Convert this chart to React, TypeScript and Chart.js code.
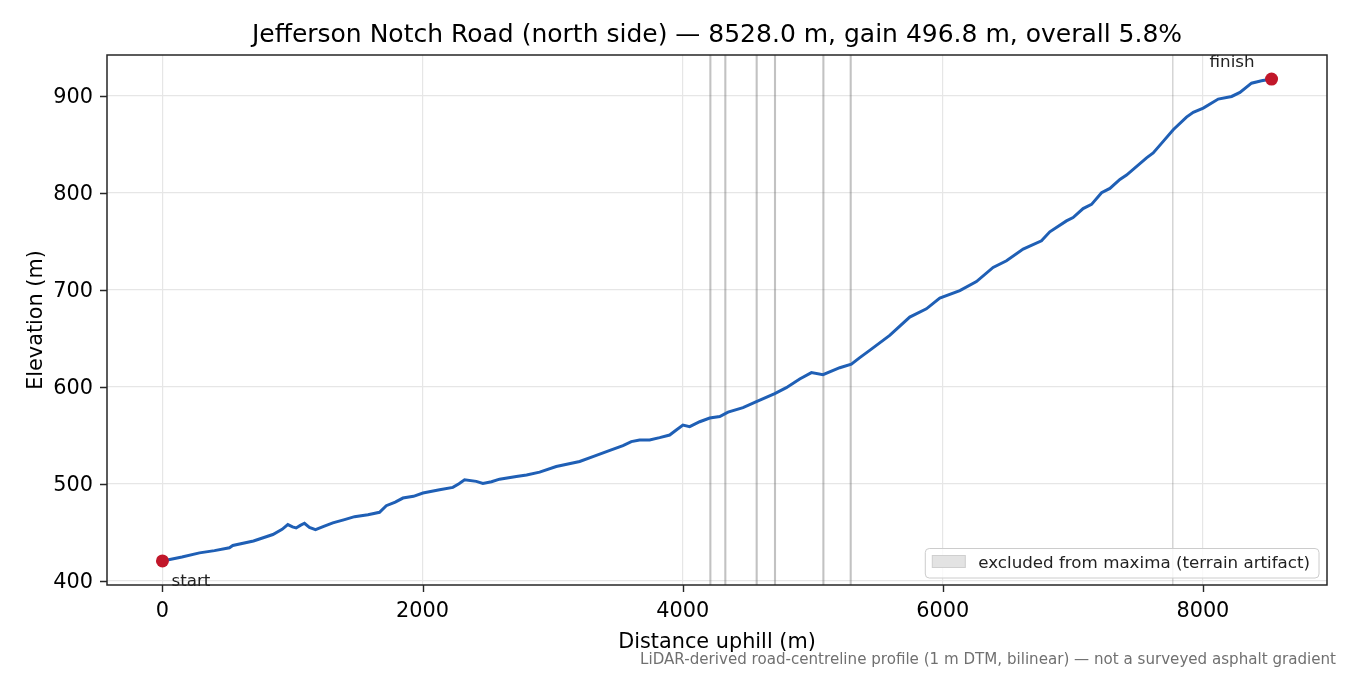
import { useEffect, useRef } from "react";
import { Chart, registerables } from "chart.js";

Chart.register(...registerables);

// distance along the road (m) and elevation (m)
const distance = [
    0, 150, 285, 400, 515, 541, 700, 849, 920, 964, 1000, 1028, 1060, 1092, 1130, 1177,
    1240, 1310, 1400, 1477, 1580, 1669, 1721, 1790, 1849, 1930, 2003, 2131, 2233, 2280,
    2323, 2413, 2464, 2530, 2592, 2721, 2800, 2900, 3028, 3208, 3310, 3451, 3541, 3605,
    3669, 3746, 3823, 3900, 3951, 4002, 4054, 4131, 4208, 4285, 4349, 4464, 4567, 4708,
    4797, 4900, 4990, 5079, 5208, 5297, 5362, 5438, 5592, 5746, 5874, 5977, 6131, 6259,
    6387, 6490, 6618, 6759, 6823, 6951, 7002, 7079, 7144, 7221, 7285, 7362, 7413, 7567,
    7618, 7695, 7772, 7874, 7926, 8003, 8118, 8221, 8285, 8374, 8451, 8528,
];
const elevation = [
    420.4, 424.5, 428.7, 431, 434, 436.3, 441, 447.6, 453, 457.9, 455.5, 454.4, 457, 459.2, 455, 452.7,
    456, 459.6, 463, 466, 468, 470.5, 477.3, 481, 485.2, 487, 490.4, 493.7, 496.2, 500,
    504, 502.4, 500.3, 502, 504.7, 507.5, 509, 511.9, 517.7, 522.9, 528, 534.8, 539.3, 543.4,
    545.1, 545.1, 547.5, 550.2, 555.3, 560.5, 558.8, 563.9, 567.7, 569.2, 573.8, 578.5, 584.6, 592.9,
    599, 608, 614.6, 612.4, 619.6, 623.2, 630, 637.5, 652.9, 671.8, 680.3, 691.3, 699.1, 708.4,
    723, 729.9, 741.9, 750.4, 759.7, 771, 774.4, 783.7, 788, 800, 804.5, 813.8, 818.2, 836,
    841, 853, 865, 878, 883, 887.3, 896.6, 899.3, 903.4, 913, 915.4, 917.2,
];

// stretches excluded from maxima (terrain artifact), in metres
const excludedStart = [4205, 4320, 4561, 4702, 5074, 5284, 7765];
const excludedEnd = [4221, 4336, 4577, 4718, 5090, 5300, 7773];

const xTicks = [0, 2000, 4000, 6000, 8000];
const yTicks = [400, 500, 600, 700, 800, 900];

const titleText = "Jefferson Notch Road (north side) — 8528.0 m, gain 496.8 m, overall 5.8%";
const footerText = "LiDAR-derived road-centreline profile (1 m DTM, bilinear) — not a surveyed asphalt gradient";
const legendText = "excluded from maxima (terrain artifact)";

const FONT = "'DejaVu Sans', sans-serif";

const decorPlugin = {
    id: "decor",
    beforeDatasetsDraw(chart: any) {
        const { ctx, chartArea, scales } = chart;
        ctx.save();
        ctx.fillStyle = "rgba(110, 110, 110, 0.42)";
        excludedStart.forEach((s, i) => {
            const x0 = scales.x.getPixelForValue(s);
            const x1 = scales.x.getPixelForValue(excludedEnd[i]);
            ctx.fillRect(x0, chartArea.top, x1 - x0, chartArea.bottom - chartArea.top);
        });
        ctx.restore();
    },
    afterDraw(chart: any) {
        const { ctx, chartArea, scales } = chart;
        ctx.save();
        // frame
        ctx.strokeStyle = "#262626";
        ctx.lineWidth = 1.5;
        ctx.strokeRect(chartArea.left, chartArea.top, chartArea.right - chartArea.left, chartArea.bottom - chartArea.top);

        // tick marks
        ctx.lineWidth = 1.4;
        ctx.beginPath();
        xTicks.forEach((v) => {
            const x = Math.round(scales.x.getPixelForValue(v)) + 0.5;
            ctx.moveTo(x, chartArea.bottom);
            ctx.lineTo(x, chartArea.bottom + 7);
        });
        yTicks.forEach((v) => {
            const y = Math.round(scales.y.getPixelForValue(v)) + 0.5;
            ctx.moveTo(chartArea.left, y);
            ctx.lineTo(chartArea.left - 7, y);
        });
        ctx.stroke();

        // title
        ctx.fillStyle = "#000";
        ctx.font = `25px ${FONT}`;
        ctx.textAlign = "center";
        ctx.textBaseline = "alphabetic";
        ctx.fillText(titleText, (chartArea.left + chartArea.right) / 2, 42);

        // start / finish labels
        const n = distance.length - 1;
        ctx.font = `16.7px ${FONT}`;
        ctx.fillStyle = "#222";
        ctx.textAlign = "left";
        const sx = scales.x.getPixelForValue(distance[0]);
        const sy = scales.y.getPixelForValue(elevation[0]);
        ctx.fillText("start", sx + 9, sy + 25);
        const fx = scales.x.getPixelForValue(distance[n]);
        const fy = scales.y.getPixelForValue(elevation[n]);
        ctx.fillText("finish", fx - 62, fy - 12.5);

        // legend
        const tw = ctx.measureText(legendText).width;
        const w = 7 + 33 + 13 + tw + 9;
        const h = 29.5;
        const lx = chartArea.right - 8 - w;
        const ly = chartArea.bottom - 7 - h;
        ctx.beginPath();
        ctx.roundRect(lx, ly, w, h, 4);
        ctx.fillStyle = "rgba(255,255,255,0.8)";
        ctx.fill();
        ctx.strokeStyle = "#cccccc";
        ctx.lineWidth = 1;
        ctx.stroke();
        ctx.fillStyle = "#e3e3e3";
        ctx.fillRect(lx + 7, ly + 7, 33, 12);
        ctx.strokeStyle = "#cfcfcf";
        ctx.strokeRect(lx + 7, ly + 7, 33, 12);
        ctx.fillStyle = "#222";
        ctx.fillText(legendText, lx + 7 + 33 + 13, ly + 19.5);

        // footer note
        ctx.font = `15.1px ${FONT}`;
        ctx.fillStyle = "#707070";
        ctx.textAlign = "right";
        ctx.fillText(footerText, 1336, 664);
        ctx.restore();
    },
};

export default function App() {
    const canvasRef = useRef<HTMLCanvasElement>(null);

    useEffect(() => {
        document.body.style.margin = "0";
        if (!canvasRef.current) return;
        const ctx = canvasRef.current.getContext("2d");
        if (!ctx) return;

        const n = distance.length - 1;
        const xSpan = distance[n] - distance[0];
        const yLo = Math.min(...elevation);
        const yHi = Math.max(...elevation);
        const ySpan = yHi - yLo;

        const chart = new Chart(ctx, {
            type: "line",
            data: {
                datasets: [
                    {
                        type: "scatter" as const,
                        label: "ends",
                        data: [
                            { x: distance[0], y: elevation[0] },
                            { x: distance[n], y: elevation[n] },
                        ],
                        pointRadius: 6.5,
                        pointBackgroundColor: "#c1172a",
                        pointBorderWidth: 0,
                        order: 0,
                    },
                    {
                        label: "profile",
                        data: distance.map((d, i) => ({ x: d, y: elevation[i] })),
                        borderColor: "#1f5fb5",
                        borderWidth: 3,
                        pointRadius: 0,
                        tension: 0,
                        fill: false,
                        order: 1,
                    },
                ],
            },
            plugins: [decorPlugin],
            options: {
                animation: false,
                responsive: false,
                devicePixelRatio: 1,
                layout: { padding: { top: 55, right: 23, left: 0, bottom: 0 } },
                plugins: {
                    legend: { display: false },
                    tooltip: { enabled: false },
                    title: { display: false },
                },
                scales: {
                    x: {
                        type: "linear",
                        min: distance[0] - 0.05 * xSpan,
                        max: distance[n] + 0.05 * xSpan,
                        afterBuildTicks: (s: any) => {
                            s.ticks = xTicks.map((v) => ({ value: v }));
                        },
                        afterFit: (s: any) => {
                            s.height = 90;
                        },
                        ticks: {
                            color: "#000",
                            font: { family: FONT, size: 20.8 },
                            padding: 7,
                            maxRotation: 0,
                            callback: (v: any) => String(v),
                        },
                        grid: {
                            color: "#e6e6e6",
                            lineWidth: 1.2,
                            drawTicks: true,
                            tickLength: 7,
                            tickColor: "rgba(0,0,0,0)",
                        },
                        border: { display: false },
                        title: {
                            display: true,
                            text: "Distance uphill (m)",
                            color: "#000",
                            font: { family: FONT, size: 20.8 },
                            padding: { top: 0, bottom: 20 },
                        },
                    },
                    y: {
                        type: "linear",
                        min: yLo - 0.05 * ySpan,
                        max: yHi + 0.05 * ySpan,
                        afterBuildTicks: (s: any) => {
                            s.ticks = yTicks.map((v) => ({ value: v }));
                        },
                        afterFit: (s: any) => {
                            s.width = 107;
                        },
                        ticks: {
                            color: "#000",
                            font: { family: FONT, size: 20.8 },
                            padding: 7,
                            labelOffset: 2,
                            callback: (v: any) => String(v),
                        },
                        grid: {
                            color: "#e6e6e6",
                            lineWidth: 1.2,
                            drawTicks: true,
                            tickLength: 7,
                            tickColor: "rgba(0,0,0,0)",
                        },
                        border: { display: false },
                        title: {
                            display: true,
                            text: "Elevation (m)",
                            color: "#000",
                            font: { family: FONT, size: 20.8 },
                            padding: { top: 24.5, bottom: 0 },
                        },
                    },
                },
            },
        });

        return () => {
            chart.destroy();
        };
    }, []);

    return (
        <div style={{ width: 1350, height: 675 }}>
            <canvas ref={canvasRef} width={1350} height={675} style={{ display: "block" }} />
        </div>
    );
}
